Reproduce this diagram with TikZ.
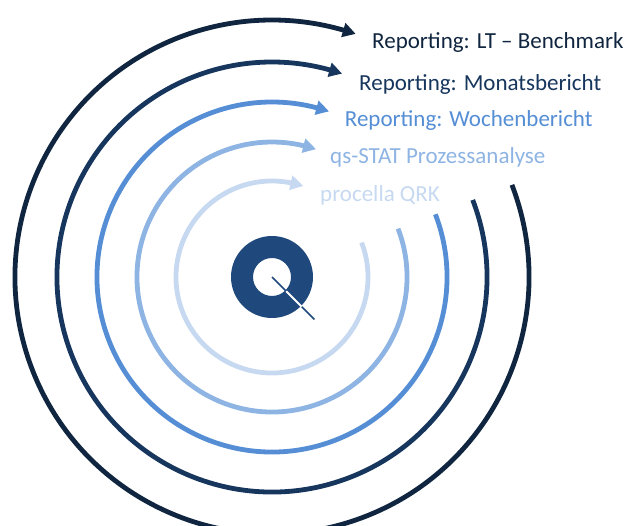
\documentclass[tikz,border=0pt]{standalone}
\usepackage{fontspec}
\setmainfont{Carlito}
\usetikzlibrary{arrows.meta,bending}
\definecolor{ringA}{HTML}{10253F}
\definecolor{ringB}{HTML}{17365D}
\definecolor{ringC}{HTML}{558ED5}
\definecolor{ringD}{HTML}{8EB4E3}
\definecolor{ringE}{HTML}{C6D9F1}
\definecolor{logoblue}{HTML}{1F497D}
\begin{document}
\begin{tikzpicture}[x=1pt,y=1pt,
  ring/.style={line width=4.8pt,-{Triangle[length=13pt,width=14pt,bend]}},
  label/.style={anchor=base west,inner sep=0pt,font=\fontsize{23}{27}\selectfont}]
\useasboundingbox (0,0) rectangle (637,525);
\coordinate (c) at (272,248);

% logo in the middle
\fill[logoblue,even odd rule] (c) circle[radius=41] (c) circle[radius=19];
\draw[logoblue,line width=1.6pt] (c) -- ++(-45:60) coordinate (tail);
\draw[white,line width=1.8pt] (c) ++(-45:20) -- ++(-45:22);

% rings, innermost first
\draw[ring,ringE] (c) ++(21:96)  arc[start angle=21,end angle=-289,radius=96];
\draw[ring,ringD] (c) ++(21:135) arc[start angle=21,end angle=-289,radius=135];
\draw[ring,ringC] (c) ++(21:175) arc[start angle=21,end angle=-289,radius=175];
\draw[ring,ringB] (c) ++(21:215) arc[start angle=21,end angle=-289,radius=215];
\draw[ring,ringA] (c) ++(21:257) arc[start angle=21,end angle=-289,radius=257];

% labels
\node[label,text=ringA] (lt)   at (372,476.7) {Reporting: LT – Benchmark};
\node[label,text=ringB] (mon)  at (359,434.3) {Reporting: Monatsbericht};
\node[label,text=ringC] (woc)  at (344.7,398.3) {Reporting: Wochenbericht};
\node[label,text=ringD] (qs)   at (330,361.7) {qs-STAT Prozessanalyse};
\node[label,text=ringE] (proc) at (320,323.3) {procella QRK};
\end{tikzpicture}
\end{document}
